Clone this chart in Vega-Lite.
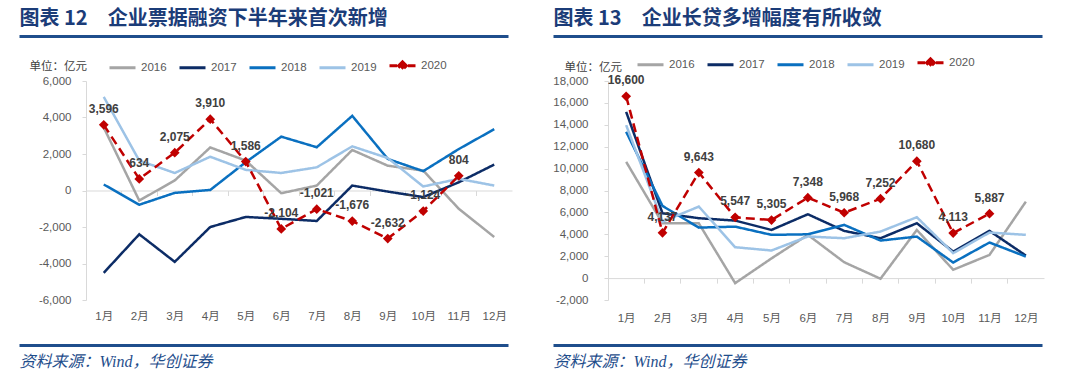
{
  "$schema": "https://vega.github.io/schema/vega-lite/v6.json",
  "background": "white",
  "padding": {"left": 18, "top": 8, "right": 5, "bottom": 5},
  "config": {
    "view": {"stroke": null},
    "font": "Liberation Sans, Noto Sans CJK SC",
    "locale": {"number": {"decimal": ".", "thousands": ",", "grouping": [3], "currency": ["", ""], "minus": "-"}},
    "axis": {"labelFont": "Liberation Sans, Noto Sans CJK SC", "labelFontSize": 11.5, "labelColor": "#595959", "grid": false},
    "legend": {"labelFont": "Liberation Sans", "labelFontSize": 11.5, "labelColor": "#595959"}
  },
  "datasets": {
    "L": [
      {"m": "1月", "year": "2016", "v": 3450}, {"m": "2月", "year": "2016", "v": -550}, {"m": "3月", "year": "2016", "v": 550}, {"m": "4月", "year": "2016", "v": 2360}, {"m": "5月", "year": "2016", "v": 1640}, {"m": "6月", "year": "2016", "v": -150}, {"m": "7月", "year": "2016", "v": 270}, {"m": "8月", "year": "2016", "v": 2220}, {"m": "9月", "year": "2016", "v": 1360}, {"m": "10月", "year": "2016", "v": 1090}, {"m": "11月", "year": "2016", "v": -1000}, {"m": "12月", "year": "2016", "v": -2550},
      {"m": "1月", "year": "2017", "v": -4510}, {"m": "2月", "year": "2017", "v": -2400}, {"m": "3月", "year": "2017", "v": -3910}, {"m": "4月", "year": "2017", "v": -2000}, {"m": "5月", "year": "2017", "v": -1450}, {"m": "6月", "year": "2017", "v": -1550}, {"m": "7月", "year": "2017", "v": -1670}, {"m": "8月", "year": "2017", "v": 270}, {"m": "9月", "year": "2017", "v": -60}, {"m": "10月", "year": "2017", "v": -360}, {"m": "11月", "year": "2017", "v": 450}, {"m": "12月", "year": "2017", "v": 1420},
      {"m": "1月", "year": "2018", "v": 330}, {"m": "2月", "year": "2018", "v": -780}, {"m": "3月", "year": "2018", "v": -130}, {"m": "4月", "year": "2018", "v": 30}, {"m": "5月", "year": "2018", "v": 1550}, {"m": "6月", "year": "2018", "v": 2950}, {"m": "7月", "year": "2018", "v": 2370}, {"m": "8月", "year": "2018", "v": 4090}, {"m": "9月", "year": "2018", "v": 1730}, {"m": "10月", "year": "2018", "v": 1060}, {"m": "11月", "year": "2018", "v": 2270}, {"m": "12月", "year": "2018", "v": 3360},
      {"m": "1月", "year": "2019", "v": 5130}, {"m": "2月", "year": "2019", "v": 1640}, {"m": "3月", "year": "2019", "v": 960}, {"m": "4月", "year": "2019", "v": 1850}, {"m": "5月", "year": "2019", "v": 1130}, {"m": "6月", "year": "2019", "v": 960}, {"m": "7月", "year": "2019", "v": 1270}, {"m": "8月", "year": "2019", "v": 2420}, {"m": "9月", "year": "2019", "v": 1780}, {"m": "10月", "year": "2019", "v": 220}, {"m": "11月", "year": "2019", "v": 640}, {"m": "12月", "year": "2019", "v": 270},
      {"m": "1月", "year": "2020", "v": 3596}, {"m": "2月", "year": "2020", "v": 634}, {"m": "3月", "year": "2020", "v": 2075}, {"m": "4月", "year": "2020", "v": 3910}, {"m": "5月", "year": "2020", "v": 1586}, {"m": "6月", "year": "2020", "v": -2104}, {"m": "7月", "year": "2020", "v": -1021}, {"m": "8月", "year": "2020", "v": -1676}, {"m": "9月", "year": "2020", "v": -2632}, {"m": "10月", "year": "2020", "v": -1124}, {"m": "11月", "year": "2020", "v": 804}
    ],
    "R": [
      {"m": "1月", "year": "2016", "v": 10620}, {"m": "2月", "year": "2016", "v": 5010}, {"m": "3月", "year": "2016", "v": 5000}, {"m": "4月", "year": "2016", "v": -460}, {"m": "5月", "year": "2016", "v": 1800}, {"m": "6月", "year": "2016", "v": 3950}, {"m": "7月", "year": "2016", "v": 1450}, {"m": "8月", "year": "2016", "v": -60}, {"m": "9月", "year": "2016", "v": 4400}, {"m": "10月", "year": "2016", "v": 760}, {"m": "11月", "year": "2016", "v": 2120}, {"m": "12月", "year": "2016", "v": 6980},
      {"m": "1月", "year": "2017", "v": 15180}, {"m": "2月", "year": "2017", "v": 5920}, {"m": "3月", "year": "2017", "v": 5470}, {"m": "4月", "year": "2017", "v": 5250}, {"m": "5月", "year": "2017", "v": 4400}, {"m": "6月", "year": "2017", "v": 5830}, {"m": "7月", "year": "2017", "v": 4310}, {"m": "8月", "year": "2017", "v": 3640}, {"m": "9月", "year": "2017", "v": 5010}, {"m": "10月", "year": "2017", "v": 2420}, {"m": "11月", "year": "2017", "v": 4310}, {"m": "12月", "year": "2017", "v": 2060},
      {"m": "1月", "year": "2018", "v": 13360}, {"m": "2月", "year": "2018", "v": 6590}, {"m": "3月", "year": "2018", "v": 4610}, {"m": "4月", "year": "2018", "v": 4700}, {"m": "5月", "year": "2018", "v": 3950}, {"m": "6月", "year": "2018", "v": 4000}, {"m": "7月", "year": "2018", "v": 4860}, {"m": "8月", "year": "2018", "v": 3430}, {"m": "9月", "year": "2018", "v": 3790}, {"m": "10月", "year": "2018", "v": 1420}, {"m": "11月", "year": "2018", "v": 3250}, {"m": "12月", "year": "2018", "v": 1970},
      {"m": "1月", "year": "2019", "v": 13970}, {"m": "2月", "year": "2019", "v": 5160}, {"m": "3月", "year": "2019", "v": 6530}, {"m": "4月", "year": "2019", "v": 2820}, {"m": "5月", "year": "2019", "v": 2520}, {"m": "6月", "year": "2019", "v": 3800}, {"m": "7月", "year": "2019", "v": 3640}, {"m": "8月", "year": "2019", "v": 4250}, {"m": "9月", "year": "2019", "v": 5560}, {"m": "10月", "year": "2019", "v": 2280}, {"m": "11月", "year": "2019", "v": 4160}, {"m": "12月", "year": "2019", "v": 3950},
      {"m": "1月", "year": "2020", "v": 16600}, {"m": "2月", "year": "2020", "v": 4137}, {"m": "3月", "year": "2020", "v": 9643}, {"m": "4月", "year": "2020", "v": 5547}, {"m": "5月", "year": "2020", "v": 5305}, {"m": "6月", "year": "2020", "v": 7348}, {"m": "7月", "year": "2020", "v": 5968}, {"m": "8月", "year": "2020", "v": 7252}, {"m": "9月", "year": "2020", "v": 10680}, {"m": "10月", "year": "2020", "v": 4113}, {"m": "11月", "year": "2020", "v": 5887}
    ],
    "U": [{"u": 0}, {"u": 1}],
    "M": [{"m": "1月"}, {"m": "2月"}, {"m": "3月"}, {"m": "4月"}, {"m": "5月"}, {"m": "6月"}, {"m": "7月"}, {"m": "8月"}, {"m": "9月"}, {"m": "10月"}, {"m": "11月"}, {"m": "12月"}]
  },
  "spacing": 96,
  "bounds": "flush",
  "resolve": {"scale": {"color": "independent", "strokeDash": "independent"}, "legend": {"color": "independent", "strokeDash": "independent"}},
  "hconcat": [
    {
      "width": 426,
      "height": 219,
      "layer": [
        {
          "data": {"name": "U"},
          "mark": {"type": "point", "opacity": 0, "size": 1},
          "encoding": {
            "x": {"field": "u", "type": "quantitative", "scale": {"domain": [0, 1], "range": [-67, 422], "nice": false, "zero": false},
              "axis": {"orient": "top", "offset": 45, "domain": true, "domainColor": "#1f4e8c", "domainWidth": 3, "ticks": false, "labels": false, "grid": false,
                "title": "图表 12　企业票据融资下半年来首次新增", "titleFont": "Noto Sans CJK SC", "titleFontSize": 20, "titleFontWeight": "bold", "titleColor": "#1b3c78",
                "titleAlign": "left", "titleAnchor": "start", "titleX": -67, "titleY": -8, "titleBaseline": "bottom"}}
          }
        },
        {
          "data": {"name": "U"},
          "mark": {"type": "point", "opacity": 0, "size": 1},
          "encoding": {
            "x": {"field": "u", "type": "quantitative", "scale": {"domain": [0, 1], "range": [-67, 422], "nice": false, "zero": false},
              "axis": {"orient": "bottom", "offset": 45, "domain": true, "domainColor": "#1f4e8c", "domainWidth": 3, "ticks": false, "labels": false, "grid": false,
                "title": "资料来源：Wind，华创证券", "titleFont": "Liberation Serif, Noto Sans CJK SC", "titleFontSize": 16, "titleFontWeight": "normal", "titleFontStyle": "italic", "titleColor": "#1f4e8c",
                "titleAlign": "left", "titleAnchor": "start", "titleX": -67, "titleY": 16, "titleBaseline": "middle"}}
          }
        },
        {
          "data": {"name": "M"},
          "mark": {"type": "point", "opacity": 0, "size": 1},
          "encoding": {
            "x": {"field": "m", "type": "ordinal", "sort": null, "scale": {"type": "band", "domain": ["1月", "2月", "3月", "4月", "5月", "6月", "7月", "8月", "9月", "10月", "11月", "12月"], "paddingInner": 0, "paddingOuter": 0},
              "axis": {"orient": "bottom", "offset": -109.5, "labels": false, "domain": true, "domainColor": "#d9d9d9", "domainWidth": 1, "ticks": true, "tickColor": "#d9d9d9", "tickSize": 5, "bandPosition": 0, "title": null, "grid": false}}
          }
        },
        {
          "data": {"name": "L"},
          "mark": {"type": "line", "strokeWidth": 2.5},
          "encoding": {
            "x": {"field": "m", "type": "ordinal", "sort": null, "scale": {"domain": ["1月", "2月", "3月", "4月", "5月", "6月", "7月", "8月", "9月", "10月", "11月", "12月"]},
              "axis": {"orient": "bottom", "domain": false, "ticks": false, "labelPadding": 10, "labelAngle": 0, "title": null}},
            "y": {"field": "v", "type": "quantitative", "scale": {"domain": [-6000, 6000], "nice": false},
              "axis": {"values": [-6000, -4000, -2000, 0, 2000, 4000, 6000], "tickCount": 20, "format": ",.0f", "labelOverlap": false, "domain": true, "domainColor": "#d9d9d9", "ticks": true, "tickColor": "#d9d9d9", "tickSize": 4, "labelPadding": 11,
                "title": "单位：亿元", "titleAngle": 0, "titleX": -57, "titleY": -15, "titleAlign": "left", "titleBaseline": "middle", "titleFont": "Noto Sans CJK SC", "titleFontSize": 11.5, "titleFontWeight": "normal", "titleColor": "#404040"}},
            "color": {"field": "year", "type": "nominal", "scale": {"domain": ["2016", "2017", "2018", "2019", "2020"], "range": ["#a5a5a5", "#0c2c66", "#0a70c0", "#9dc3e6", "#c00000"]},
              "legend": {"orient": "none", "legendX": 22, "legendY": -30, "direction": "horizontal", "title": null, "symbolType": "stroke", "symbolSize": 676, "symbolStrokeWidth": 3, "labelOffset": 4, "columnPadding": 6,
                "encode": {"symbols": {"update": {"shape": {"signal": "datum.value === '2020' ? 'M-1,0L-0.42,0M0.42,0L1,0M0,-0.3L0.3,0L0,0.3L-0.3,0Z' : 'stroke'"}, "fill": {"signal": "datum.value === '2020' ? '#c00000' : 'transparent'"}}}}}},
            "strokeDash": {"field": "year", "type": "nominal", "scale": {"domain": ["2016", "2017", "2018", "2019", "2020"], "range": [[1, 0], [1, 0], [1, 0], [1, 0], [9, 5]]}, "legend": null}
          }
        },
        {
          "data": {"name": "L"},
          "transform": [{"filter": "datum.year === '2020'"}],
          "mark": {"type": "point", "shape": "diamond", "filled": true, "size": 95, "color": "#c00000", "opacity": 1},
          "encoding": {
            "x": {"field": "m", "type": "ordinal", "sort": null, "scale": {"domain": ["1月", "2月", "3月", "4月", "5月", "6月", "7月", "8月", "9月", "10月", "11月", "12月"]}, "axis": null},
            "y": {"field": "v", "type": "quantitative"}
          }
        },
        {
          "data": {"name": "L"},
          "transform": [{"filter": "datum.year === '2020'"}],
          "mark": {"type": "text", "dy": -16, "fontWeight": "bold", "fontSize": 12, "color": "#404040", "font": "Liberation Sans"},
          "encoding": {
            "x": {"field": "m", "type": "ordinal", "sort": null, "scale": {"domain": ["1月", "2月", "3月", "4月", "5月", "6月", "7月", "8月", "9月", "10月", "11月", "12月"]}, "axis": null},
            "y": {"field": "v", "type": "quantitative"},
            "text": {"field": "v", "type": "quantitative", "format": ","}
          }
        }
      ],
      "resolve": {"scale": {"x": "independent"}, "axis": {"x": "independent"}}
    },
    {
      "width": 436,
      "height": 219,
      "layer": [
        {
          "data": {"name": "U"},
          "mark": {"type": "point", "opacity": 0, "size": 1},
          "encoding": {
            "x": {"field": "u", "type": "quantitative", "scale": {"domain": [0, 1], "range": [-55, 434], "nice": false, "zero": false},
              "axis": {"orient": "top", "offset": 45, "domain": true, "domainColor": "#1f4e8c", "domainWidth": 3, "ticks": false, "labels": false, "grid": false,
                "title": "图表 13　企业长贷多增幅度有所收敛", "titleFont": "Noto Sans CJK SC", "titleFontSize": 20, "titleFontWeight": "bold", "titleColor": "#1b3c78",
                "titleAlign": "left", "titleAnchor": "start", "titleX": -55, "titleY": -8, "titleBaseline": "bottom"}}
          }
        },
        {
          "data": {"name": "U"},
          "mark": {"type": "point", "opacity": 0, "size": 1},
          "encoding": {
            "x": {"field": "u", "type": "quantitative", "scale": {"domain": [0, 1], "range": [-55, 434], "nice": false, "zero": false},
              "axis": {"orient": "bottom", "offset": 45, "domain": true, "domainColor": "#1f4e8c", "domainWidth": 3, "ticks": false, "labels": false, "grid": false,
                "title": "资料来源：Wind，华创证券", "titleFont": "Liberation Serif, Noto Sans CJK SC", "titleFontSize": 16, "titleFontWeight": "normal", "titleFontStyle": "italic", "titleColor": "#1f4e8c",
                "titleAlign": "left", "titleAnchor": "start", "titleX": -55, "titleY": 16, "titleBaseline": "middle"}}
          }
        },
        {
          "data": {"name": "M"},
          "mark": {"type": "point", "opacity": 0, "size": 1},
          "encoding": {
            "x": {"field": "m", "type": "ordinal", "sort": null, "scale": {"type": "band", "domain": ["1月", "2月", "3月", "4月", "5月", "6月", "7月", "8月", "9月", "10月", "11月", "12月"], "paddingInner": 0, "paddingOuter": 0},
              "axis": {"orient": "bottom", "offset": -21.9, "labels": false, "domain": true, "domainColor": "#d9d9d9", "domainWidth": 1, "ticks": true, "tickColor": "#d9d9d9", "tickSize": 5, "bandPosition": 0, "title": null, "grid": false}}
          }
        },
        {
          "data": {"name": "R"},
          "mark": {"type": "line", "strokeWidth": 2.5},
          "encoding": {
            "x": {"field": "m", "type": "ordinal", "sort": null, "scale": {"domain": ["1月", "2月", "3月", "4月", "5月", "6月", "7月", "8月", "9月", "10月", "11月", "12月"]},
              "axis": {"orient": "bottom", "domain": false, "ticks": false, "labelPadding": 12, "labelAngle": 0, "title": null}},
            "y": {"field": "v", "type": "quantitative", "scale": {"domain": [-2000, 18000], "nice": false},
              "axis": {"values": [-2000, 0, 2000, 4000, 6000, 8000, 10000, 12000, 14000, 16000, 18000], "tickCount": 20, "format": ",.0f", "labelOverlap": false, "domain": true, "domainColor": "#d9d9d9", "ticks": true, "tickColor": "#d9d9d9", "tickSize": 4, "labelPadding": 16,
                "title": "单位：亿元", "titleAngle": 0, "titleX": -44, "titleY": -14, "titleAlign": "left", "titleBaseline": "middle", "titleFont": "Noto Sans CJK SC", "titleFontSize": 11.5, "titleFontWeight": "normal", "titleColor": "#404040"}},
            "color": {"field": "year", "type": "nominal", "scale": {"domain": ["2016", "2017", "2018", "2019", "2020"], "range": ["#a5a5a5", "#0c2c66", "#0a70c0", "#9dc3e6", "#c00000"]},
              "legend": {"orient": "none", "legendX": 28, "legendY": -33, "direction": "horizontal", "title": null, "symbolType": "stroke", "symbolSize": 676, "symbolStrokeWidth": 3, "labelOffset": 4, "columnPadding": 6,
                "encode": {"symbols": {"update": {"shape": {"signal": "datum.value === '2020' ? 'M-1,0L-0.42,0M0.42,0L1,0M0,-0.3L0.3,0L0,0.3L-0.3,0Z' : 'stroke'"}, "fill": {"signal": "datum.value === '2020' ? '#c00000' : 'transparent'"}}}}}},
            "strokeDash": {"field": "year", "type": "nominal", "scale": {"domain": ["2016", "2017", "2018", "2019", "2020"], "range": [[1, 0], [1, 0], [1, 0], [1, 0], [9, 5]]}, "legend": null}
          }
        },
        {
          "data": {"name": "R"},
          "transform": [{"filter": "datum.year === '2020'"}],
          "mark": {"type": "point", "shape": "diamond", "filled": true, "size": 95, "color": "#c00000", "opacity": 1},
          "encoding": {
            "x": {"field": "m", "type": "ordinal", "sort": null, "scale": {"domain": ["1月", "2月", "3月", "4月", "5月", "6月", "7月", "8月", "9月", "10月", "11月", "12月"]}, "axis": null},
            "y": {"field": "v", "type": "quantitative"}
          }
        },
        {
          "data": {"name": "R"},
          "transform": [{"filter": "datum.year === '2020'"}],
          "mark": {"type": "text", "dy": -16, "fontWeight": "bold", "fontSize": 12, "color": "#404040", "font": "Liberation Sans"},
          "encoding": {
            "x": {"field": "m", "type": "ordinal", "sort": null, "scale": {"domain": ["1月", "2月", "3月", "4月", "5月", "6月", "7月", "8月", "9月", "10月", "11月", "12月"]}, "axis": null},
            "y": {"field": "v", "type": "quantitative"},
            "text": {"field": "v", "type": "quantitative", "format": ","}
          }
        }
      ],
      "resolve": {"scale": {"x": "independent"}, "axis": {"x": "independent"}}
    }
  ]
}
